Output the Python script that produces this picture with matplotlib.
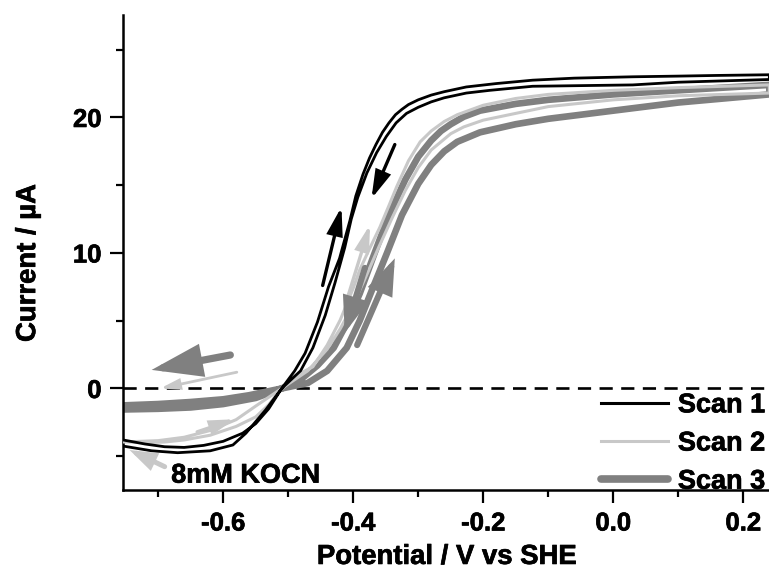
import matplotlib
matplotlib.use("Agg")
import matplotlib.pyplot as plt
import matplotlib.patheffects as pe
from matplotlib.ticker import MultipleLocator, FormatStrFormatter
from matplotlib.lines import Line2D

plt.rcParams['font.family'] = ['Liberation Sans', 'DejaVu Sans']
plt.rcParams['font.weight'] = 'bold'
plt.rcParams['axes.unicode_minus'] = False

# ---- data (potential V vs SHE, current uA) ----
scan1_fwd_x = [-0.754, -0.72, -0.69, -0.66, -0.63, -0.60, -0.57, -0.55, -0.53, -0.51, -0.49, -0.474,
               -0.455, -0.438, -0.421, -0.405, -0.396, -0.385, -0.375, -0.365, -0.355, -0.345, -0.335,
               -0.325, -0.315, -0.30, -0.28, -0.26, -0.226, -0.18, -0.124, -0.06, 0.03, 0.10, 0.16, 0.24]
scan1_fwd_y = [-3.8, -4.1, -4.3, -4.35, -4.2, -3.9, -3.3, -2.6, -1.5, 0.0, 1.3, 2.6,
               4.9, 7.5, 9.6, 12.4, 14.2, 15.8, 17.0, 18.0, 18.9, 19.6, 20.2,
               20.6, 20.95, 21.3, 21.65, 21.9, 22.25, 22.5, 22.75, 22.9, 23.0, 23.05, 23.1, 23.15]
scan1_rev_x = [0.24, 0.10, 0.03, -0.124, -0.19, -0.226, -0.26, -0.28, -0.30, -0.318, -0.334, -0.349,
               -0.364, -0.379, -0.393, -0.403, -0.413, -0.428, -0.443, -0.462, -0.481, -0.51, -0.535,
               -0.565, -0.585, -0.62, -0.67, -0.71, -0.754]
scan1_rev_y = [22.8, 22.6, 22.4, 22.3, 22.0, 21.8, 21.45, 21.15, 20.75, 20.3, 19.6, 18.6,
               17.4, 15.9, 14.1, 12.5, 10.4, 7.8, 5.4, 3.0, 1.3, 0.0, -1.6,
               -3.3, -4.17, -4.6, -4.74, -4.6, -4.25]

scan2_fwd_x = [-0.754, -0.72, -0.69, -0.66, -0.62, -0.58, -0.55, -0.53, -0.51, -0.49, -0.462, -0.44,
               -0.42, -0.40, -0.39, -0.375, -0.359, -0.345, -0.333, -0.315, -0.297, -0.28, -0.26,
               -0.24, -0.20, -0.15, -0.10, 0.0, 0.10, 0.24]
scan2_fwd_y = [-3.9, -4.0, -3.95, -3.8, -3.45, -2.8, -2.1, -1.2, 0.0, 0.9, 1.6, 3.2,
               5.05, 7.4, 8.75, 10.3, 11.9, 13.5, 14.9, 16.8, 18.2, 19.0, 19.7,
               20.2, 20.9, 21.4, 21.7, 22.0, 22.2, 22.4]
scan2_rev_x = [0.24, 0.10, 0.0, -0.10, -0.20, -0.23, -0.25, -0.28, -0.30, -0.32, -0.34, -0.36, -0.38,
               -0.40, -0.42, -0.44, -0.47, -0.51, -0.55, -0.58, -0.62, -0.66, -0.70, -0.754]
scan2_rev_y = [21.8, 21.6, 21.3, 20.8, 19.8, 19.3, 18.8, 17.6, 16.3, 14.6, 12.6, 10.5, 8.3,
               6.2, 4.4, 2.9, 1.3, 0.0, -1.3, -2.3, -3.1, -3.6, -3.85, -3.95]

scan3_fwd_x = [-0.754, -0.70, -0.65, -0.60, -0.56, -0.53, -0.51, -0.48, -0.455, -0.43, -0.41, -0.39,
               -0.367, -0.345, -0.32, -0.30, -0.28, -0.265, -0.25, -0.23, -0.205, -0.15, -0.10,
               0.0, 0.10, 0.24]
scan3_fwd_y = [-1.25, -1.15, -1.0, -0.8, -0.5, -0.2, 0.0, 0.7, 1.7, 3.0, 4.8, 7.0,
               10.0, 12.8, 15.4, 17.1, 18.3, 19.0, 19.5, 20.05, 20.5, 21.0, 21.3,
               21.7, 22.0, 22.4]
scan3_rev_x = [0.24, 0.10, 0.0, -0.10, -0.15, -0.205, -0.24, -0.26, -0.28, -0.30, -0.325, -0.348,
               -0.37, -0.39, -0.41, -0.44, -0.47, -0.51, -0.55, -0.60, -0.65, -0.70, -0.754]
scan3_rev_y = [21.7, 21.1, 20.5, 19.9, 19.5, 18.9, 18.2, 17.5, 16.5, 15.1, 12.8, 10.0,
               7.4, 5.0, 3.0, 1.3, 0.4, 0.0, -0.7, -1.15, -1.4, -1.5, -1.55]

legend_labels = ["Scan 1", "Scan 2", "Scan 3"]
annotation_text = "8mM KOCN"

# arrows: (tail_x, tail_y, tip_x, tip_y)
arrows_black = [(-0.447, 7.6, -0.418, 13.4), (-0.336, 18.0, -0.372, 14.0)]
arrows_light = [(-0.410, 6.5, -0.374, 12.1), (-0.579, 1.2, -0.697, 0.0),
                (-0.640, -3.2, -0.582, -2.27)]
arrow_kocn = (-0.690, -5.77, -0.744, -4.54)
arrows_gray = [(-0.382, 8.9, -0.413, 4.1), (-0.394, 3.2, -0.336, 9.6),
               (-0.589, 2.47, -0.710, 1.37)]

BLACK = "#000000"
LIGHT = "#c8c8c8"
GRAY = "#808080"

fig = plt.figure(figsize=(7.69, 5.70), dpi=100)
ax = fig.add_axes([0.16, 0.1404, 0.84, 0.8333])

ax.axhline(0, color="black", lw=1.9, dashes=(5.0, 3.2), zorder=1)

kw = dict(solid_joinstyle="round", solid_capstyle="round")
ax.plot(scan3_fwd_x + scan3_rev_x, scan3_fwd_y + scan3_rev_y, color=GRAY, lw=4.8, zorder=2, **kw)
ax.plot(scan2_fwd_x + scan2_rev_x, scan2_fwd_y + scan2_rev_y, color=LIGHT, lw=2.2, zorder=3, **kw)
ax.plot(scan1_fwd_x + scan1_rev_x, scan1_fwd_y + scan1_rev_y, color=BLACK, lw=2.0, zorder=4, **kw)

def arrow(a, color, lw, hl, hw, z):
    ax.annotate("", xy=(a[2], a[3]), xytext=(a[0], a[1]),
                arrowprops=dict(arrowstyle=f"-|>,head_length={hl},head_width={hw}",
                                color=color, lw=lw, shrinkA=0, shrinkB=0,
                                capstyle="round", joinstyle="miter"), zorder=z)

for a in arrows_black:
    arrow(a, BLACK, 2.4, 1.6, 0.45, 6)
arrow(arrows_light[0], LIGHT, 2.4, 1.5, 0.4, 5)
arrow(arrows_light[1], LIGHT, 2.0, 1.1, 0.3, 5)
arrow(arrows_light[2], LIGHT, 2.4, 1.4, 0.4, 5)
arrow(arrow_kocn, LIGHT, 3.6, 1.3, 0.45, 5)
for a in arrows_gray[:2]:
    arrow(a, GRAY, 4.4, 1.8, 0.65, 5)
arrow(arrows_gray[2], GRAY, 5.2, 2.6, 0.85, 5)

thick = [pe.withStroke(linewidth=0.5, foreground="black")]

ax.text(-0.68, -6.95, annotation_text, fontsize=19.5, fontweight="bold", ha="left",
        va="baseline", path_effects=thick)

handles = [Line2D([], [], color=BLACK, lw=2.2), Line2D([], [], color=LIGHT, lw=2.2),
           Line2D([], [], color=GRAY, lw=5.5, solid_capstyle="round")]
leg = ax.legend(handles, legend_labels, loc="lower right", bbox_to_anchor=(0.994, -0.01),
                frameon=False, fontsize=19.5, handlelength=2.5, handletextpad=0.35,
                labelspacing=0.45, borderaxespad=0.0, borderpad=0.0)
for t in leg.get_texts():
    t.set_path_effects(thick)

ax.set_xlim(-0.754, 0.2395)
ax.set_ylim(-7.49, 27.56)
ax.xaxis.set_major_locator(MultipleLocator(0.2))
ax.xaxis.set_minor_locator(MultipleLocator(0.1))
ax.xaxis.set_major_formatter(FormatStrFormatter("%.1f"))
ax.yaxis.set_major_locator(MultipleLocator(10))
ax.yaxis.set_minor_locator(MultipleLocator(5))

for s in ["top", "right"]:
    ax.spines[s].set_visible(False)
for s in ["left", "bottom"]:
    ax.spines[s].set_linewidth(1.8)
ax.tick_params(which="major", length=9.5, width=1.6, labelsize=18.5, pad=6)
ax.tick_params(which="minor", length=5, width=1.6)
for lab in ax.get_xticklabels() + ax.get_yticklabels():
    lab.set_fontweight("bold")
    lab.set_path_effects(thick)

ax.set_xlabel("Potential / V vs SHE", fontsize=19.8, fontweight="bold", path_effects=thick)
ax.set_ylabel("Current / µA", fontsize=19.8, fontweight="bold", path_effects=thick)
ax.xaxis.set_label_coords(0.5015, -0.141, transform=ax.transAxes)
ax.yaxis.set_label_coords(-0.147, 0.478, transform=ax.transAxes)
ax.xaxis.label.set_va("center")
ax.yaxis.label.set_va("center")

fig.savefig("out.png", dpi=100)
